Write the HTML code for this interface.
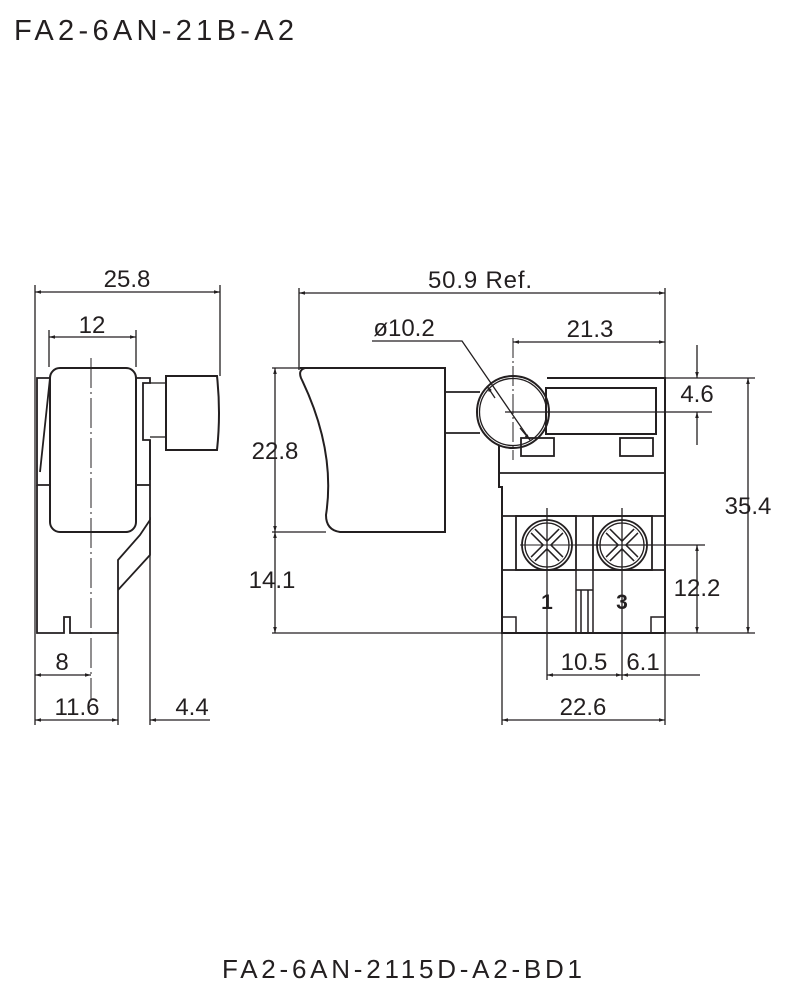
<!DOCTYPE html><html><head><style>body{margin:0;background:#fff}svg text{font-family:"Liberation Sans",sans-serif;fill:#231f20}</style></head><body>
<svg width="800" height="987" viewBox="0 0 800 987" xmlns="http://www.w3.org/2000/svg">
<defs><marker id="a" viewBox="0 0 10 10" refX="10" refY="5" markerWidth="14" markerHeight="6" orient="auto-start-reverse" markerUnits="userSpaceOnUse"><path d="M0,2L10,5L0,8z" fill="#231f20"/></marker></defs>
<text x="14" y="40" font-size="29" textLength="280" lengthAdjust="spacing">FA2-6AN-21B-A2</text>
<text x="222" y="978" font-size="26" textLength="360" lengthAdjust="spacing">FA2-6AN-2115D-A2-BD1</text>
<g stroke="#231f20" fill="none" stroke-width="1.3">
<line x1="35" y1="285" x2="35" y2="725"/><line x1="220" y1="285" x2="220" y2="376"/>
<line x1="49" y1="330" x2="49" y2="367"/><line x1="136" y1="330" x2="136" y2="367"/>
<line x1="35" y1="292" x2="220" y2="292" marker-start="url(#a)" marker-end="url(#a)"/>
<line x1="49" y1="337" x2="136" y2="337" marker-start="url(#a)" marker-end="url(#a)"/>
<rect x="50" y="368" width="86" height="164" rx="10" stroke-width="2"/>
<path d="M50,378H37V485H50M50,378L40,472" stroke-width="1.8"/>
<path d="M37,485V633H64V617H70V633H118V590L150,555V520L140,535L118,560V590" stroke-width="1.8"/>
<path d="M136,378H150V383H143V440H150V520" stroke-width="1.8"/><path d="M150,440V480" stroke-width="1.8"/>
<path d="M136,485H150" stroke-width="1.8"/>
<path d="M166,376H217Q221,413 217,450H166Z" stroke-width="2"/><line x1="150" y1="383" x2="166" y2="383"/><line x1="150" y1="437" x2="166" y2="437"/>
<line x1="91" y1="358" x2="91" y2="700" stroke-dasharray="30,4,2,4" stroke-width="1"/>
<line x1="118" y1="633" x2="118" y2="725"/><line x1="150" y1="540" x2="150" y2="725"/>
<line x1="35" y1="675" x2="91" y2="675" marker-start="url(#a)" marker-end="url(#a)"/>
<line x1="35" y1="720" x2="118" y2="720" marker-start="url(#a)" marker-end="url(#a)"/>
<line x1="210" y1="720" x2="150" y2="720" marker-end="url(#a)"/>
<line x1="299" y1="288" x2="299" y2="370"/><line x1="665" y1="288" x2="665" y2="378"/>
<line x1="299" y1="293" x2="665" y2="293" marker-start="url(#a)" marker-end="url(#a)"/>
<path d="M300,368H445V532H340Q326,530 326,515Q336,450 301,378Q298,370 305,368" stroke-width="2"/>
<line x1="445" y1="392" x2="480" y2="392" stroke-width="1.8"/><line x1="445" y1="433" x2="480" y2="433" stroke-width="1.8"/>
<circle cx="513" cy="412" r="36" stroke-width="2"/><circle cx="513" cy="412" r="33.5"/>
<path d="M547,378H665V633H502V487H499V445" stroke-width="2"/>
<rect x="546" y="388" width="110" height="46" stroke-width="2"/>
<rect x="521" y="438" width="33" height="18" stroke-width="1.8"/><rect x="620" y="438" width="33" height="18" stroke-width="1.8"/>
<line x1="499" y1="473" x2="665" y2="473" stroke-width="1.8"/>
<path d="M502,516H665M502,570H665" stroke-width="1.8"/>
<rect x="516" y="516" width="60" height="54" stroke-width="1.8"/><rect x="593" y="516" width="59" height="54" stroke-width="1.8"/>
<circle cx="547" cy="545" r="25" stroke-width="1.8"/><circle cx="547" cy="545" r="22"/>
<circle cx="622" cy="545" r="25" stroke-width="1.8"/><circle cx="622" cy="545" r="22"/>
<path d="M533,531L561,559M561,531L533,559M608,531L636,559M636,531L608,559" stroke-width="7"/>
<path d="M533,531L561,559M561,531L533,559M608,531L636,559M636,531L608,559" stroke="#fff" stroke-width="4"/>
<path d="M576,570V633M593,570V633M581,590V633M588,590V633M576,590H593" stroke-width="1.5"/>
<path d="M502,617H516V633M665,617H651V633" stroke-width="1.5"/>
<line x1="513" y1="338" x2="513" y2="460" stroke-dasharray="20,3,2,3" stroke-width="1"/>
<line x1="505" y1="412" x2="712" y2="412"/>
<line x1="513" y1="342" x2="665" y2="342" marker-start="url(#a)" marker-end="url(#a)"/>
<path d="M372,341H462L530,440"/><line x1="495" y1="398" x2="487" y2="386" marker-end="url(#a)"/><line x1="520" y1="428" x2="530" y2="440" marker-end="url(#a)"/>
<line x1="697" y1="345" x2="697" y2="378" marker-end="url(#a)"/><line x1="697" y1="445" x2="697" y2="412" marker-end="url(#a)"/>
<line x1="665" y1="378" x2="755" y2="378"/>
<line x1="748" y1="378" x2="748" y2="633" marker-start="url(#a)" marker-end="url(#a)"/>
<line x1="272" y1="368" x2="300" y2="368"/><line x1="272" y1="532" x2="326" y2="532"/><line x1="272" y1="633" x2="755" y2="633"/>
<line x1="275" y1="368" x2="275" y2="532" marker-start="url(#a)" marker-end="url(#a)"/>
<line x1="275" y1="532" x2="275" y2="633" marker-start="url(#a)" marker-end="url(#a)"/>
<line x1="575" y1="545" x2="705" y2="545"/><line x1="520" y1="545" x2="575" y2="545" stroke-width="1"/>
<line x1="697" y1="545" x2="697" y2="633" marker-start="url(#a)" marker-end="url(#a)"/>
<line x1="547" y1="508" x2="547" y2="680"/><line x1="622" y1="508" x2="622" y2="680"/>
<line x1="547" y1="675" x2="622" y2="675" marker-start="url(#a)" marker-end="url(#a)"/>
<line x1="700" y1="675" x2="622" y2="675" marker-end="url(#a)"/>
<line x1="502" y1="633" x2="502" y2="725"/><line x1="665" y1="633" x2="665" y2="725"/>
<line x1="502" y1="720" x2="665" y2="720" marker-start="url(#a)" marker-end="url(#a)"/>
</g>
<g font-size="24">
<text x="127" y="287" text-anchor="middle">25.8</text>
<text x="92" y="333" text-anchor="middle">12</text>
<text x="62" y="670" text-anchor="middle">8</text>
<text x="77" y="715" text-anchor="middle">11.6</text>
<text x="192" y="715" text-anchor="middle">4.4</text>
<text x="480" y="288" text-anchor="middle" textLength="104" lengthAdjust="spacing">50.9 Ref.</text>
<text x="404" y="336" text-anchor="middle">ø10.2</text>
<text x="590" y="337" text-anchor="middle">21.3</text>
<text x="697" y="402" text-anchor="middle">4.6</text>
<text x="275" y="459" text-anchor="middle">22.8</text>
<text x="272" y="588" text-anchor="middle">14.1</text>
<text x="748" y="514" text-anchor="middle">35.4</text>
<text x="697" y="596" text-anchor="middle">12.2</text>
<text x="584" y="670" text-anchor="middle">10.5</text>
<text x="643" y="670" text-anchor="middle">6.1</text>
<text x="583" y="715" text-anchor="middle">22.6</text>
<text x="547" y="609" text-anchor="middle" font-weight="bold" font-size="21">1</text>
<text x="622" y="609" text-anchor="middle" font-weight="bold" font-size="21">3</text>
</g>
</svg></body></html>
